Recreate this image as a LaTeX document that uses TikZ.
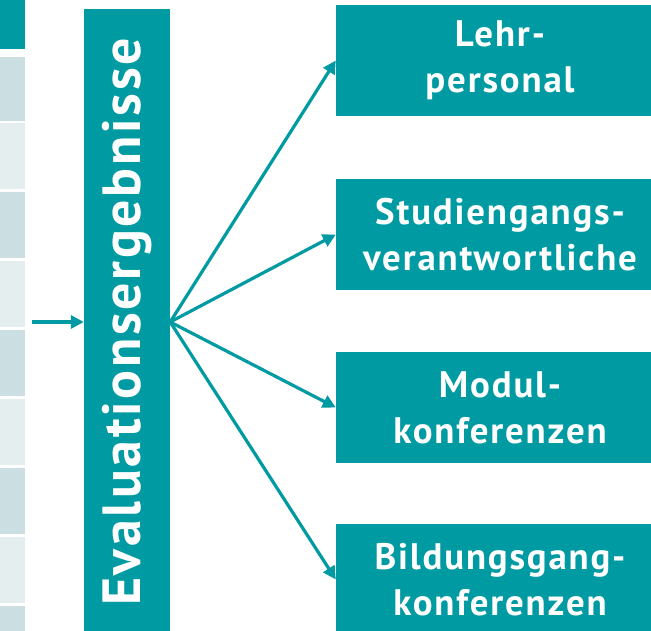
\documentclass[tikz,border=0pt]{standalone}
\usepackage{fontspec}
\setmainfont{PT Sans}
\newfontfamily\boxfont{PT Sans}[LetterSpace=5]
\usetikzlibrary{arrows.meta}
\definecolor{evalteal}{RGB}{0,154,162}
\definecolor{celldark}{RGB}{203,222,225}
\definecolor{celllight}{RGB}{229,238,239}

\begin{document}
\begin{tikzpicture}[x=1bp, y=1bp,
    box/.style={fill=evalteal, text=white, align=center, inner sep=0pt},
    target/.style={box, minimum width=328bp, minimum height=111bp,
        font=\boxfont\bfseries\fontsize{37}{46}\selectfont},
    result/.style={box, minimum width=86bp, minimum height=632bp},
    resultlabel/.style={text=white, rotate=90, inner sep=0pt,
        font=\boxfont\bfseries\fontsize{54}{60}\selectfont},
    link/.style={draw=evalteal, line width=3.2bp, -{Triangle[length=13bp,width=13bp]}}
]
\useasboundingbox (0,0) rectangle (651,631);

% table column at the left edge (tops/bottoms counted from the top)
\fill[evalteal] (0,582) rectangle (25,640);
\foreach \t/\b [count=\i] in {57/121,123/189,192/258,261/327,330/396,399/465,468/534,537/603,606/672} {
    \ifodd\i \def\cellcol{celldark}\else\def\cellcol{celllight}\fi
    \fill[\cellcol] (0,631-\t) rectangle (25,631-\b);
}

\node[result] (results) at (127,306) {};
\node[resultlabel] (resultstext) at (results.center |- 0,309) {Evaluationsergebnisse};

\node[target] (staff) at (500,570.5) {Lehr-\\personal};
\node[target] (heads) at (500,396.5) {Studiengangs-\\verantwortliche};
\node[target] (modules) at (500,223.5) {Modul-\\konferenzen};
\node[target] (courses) at (500,51.5) {Bildungsgang-\\konferenzen};

\coordinate (input) at (32,309);
\coordinate (hub) at (results.east |- input);

\draw[link] (input) -- (results.west |- input);
\draw[link] (hub) -- (staff.west);
\draw[link] (hub) -- (heads.west);
\draw[link] (hub) -- (modules.west);
\draw[link] (hub) -- (courses.west);

\end{tikzpicture}
\end{document}
